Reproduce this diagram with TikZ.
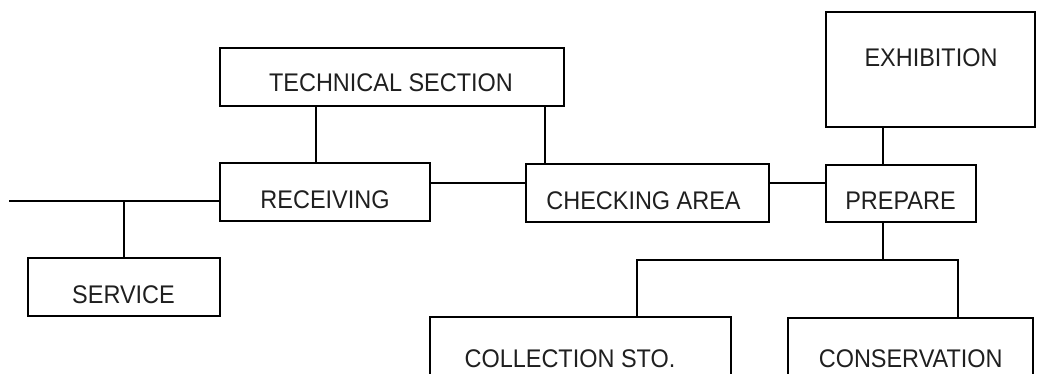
\documentclass[tikz,border=0pt]{standalone}
\usepackage{fontspec}
\setmainfont{Liberation Sans}
\begin{document}
\begin{tikzpicture}[x=1pt,y=-1pt,
  box/.style={draw=black, line width=1.6pt, rectangle, inner sep=0pt, outer sep=0pt},
  txt/.style={font=\fontsize{25.5}{28}\selectfont, inner sep=0pt, text=black!88, xscale=0.92},
  conn/.style={draw=black, line width=1.6pt}]
\useasboundingbox (0,0) rectangle (1038,373);
\clip (0,0) rectangle (1038,373);
% boxes
\node[box, minimum width=344pt, minimum height=58pt] (tech) at (392,77) {};
\node[box, minimum width=209pt, minimum height=115pt] (exh) at (930.5,69.2) {};
\node[box, minimum width=210pt, minimum height=58pt] (recv) at (325,192) {};
\node[box, minimum width=243pt, minimum height=58pt] (check) at (647.5,193) {};
\node[box, minimum width=150pt, minimum height=57pt] (prep) at (901,193.5) {};
\node[box, minimum width=192pt, minimum height=58pt] (serv) at (124,287) {};
\node[box, minimum width=301pt, minimum height=80pt] (coll) at (580.5,356.7) {};
\node[box, minimum width=245pt, minimum height=80pt] (cons) at (910.7,358) {};
% labels
\node[txt] at (391,82.5) {TECHNICAL SECTION};
\node[txt] at (931,58) {EXHIBITION};
\node[txt] at (325,200) {RECEIVING};
\node[txt] at (643.5,201) {CHECKING AREA};
\node[txt] at (900.5,201) {PREPARE};
\node[txt] at (123.5,295) {SERVICE};
\node[txt] at (570,359) {COLLECTION STO.};
\node[txt] at (910.7,359) {CONSERVATION};
% helper coordinates
\coordinate (v1) at (316,0);
\coordinate (v2) at (545,0);
\coordinate (v3) at (883,0);
\coordinate (v4) at (637,0);
\coordinate (v5) at (958,0);
\coordinate (h1) at (0,183);
\coordinate (in) at (9,201);
\coordinate (h2) at (0,260);
% connectors
\draw[conn] (v1 |- tech.south) -- (v1 |- recv.north);
\draw[conn] (v2 |- tech.south) -- (v2 |- check.north);
\draw[conn] (h1 -| recv.east) -- (h1 -| check.west);
\draw[conn] (h1 -| check.east) -- (h1 -| prep.west);
\draw[conn] (in) -- (in -| recv.west);
\draw[conn] (in -| serv.north) -- (serv.north);
\draw[conn] (v3 |- exh.south) -- (v3 |- prep.north);
\draw[conn] (v3 |- prep.south) -- (v3 |- h2);
\draw[conn] (v4 |- coll.north) -- (v4 |- h2) -- (v5 |- h2) -- (v5 |- cons.north);
\end{tikzpicture}
\end{document}
